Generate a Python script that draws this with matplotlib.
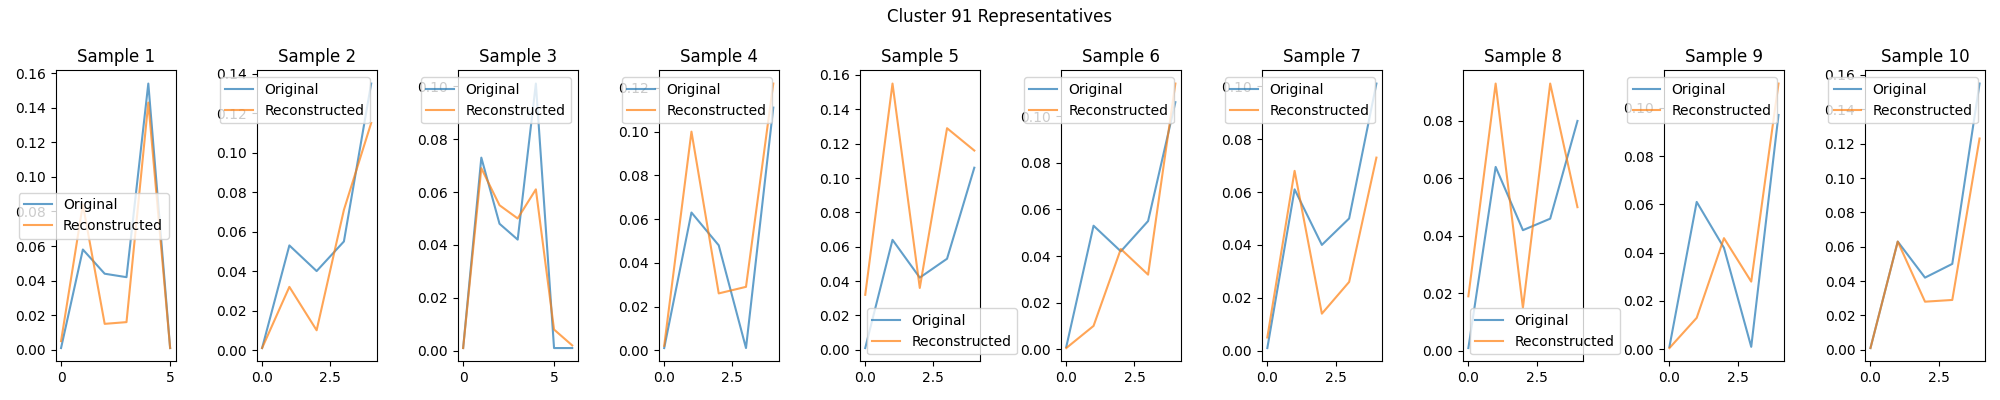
import matplotlib
matplotlib.use("Agg")
import matplotlib.pyplot as plt

cluster_id = 91

original = [
    [0.001, 0.058, 0.044, 0.042, 0.154, 0.001],
    [0.001, 0.053, 0.040, 0.055, 0.135],
    [0.001, 0.073, 0.048, 0.042, 0.101, 0.001, 0.001],
    [0.001, 0.063, 0.048, 0.001, 0.111],
    [0.001, 0.064, 0.042, 0.053, 0.106],
    [0.001, 0.053, 0.042, 0.055, 0.106],
    [0.001, 0.061, 0.040, 0.050, 0.101],
    [0.001, 0.064, 0.042, 0.046, 0.080],
    [0.001, 0.061, 0.042, 0.001, 0.097],
    [0.001, 0.063, 0.042, 0.050, 0.155],
]

reconstructed = [
    [0.005, 0.084, 0.015, 0.016, 0.143, 0.001],
    [0.001, 0.032, 0.010, 0.071, 0.115],
    [0.001, 0.069, 0.055, 0.050, 0.061, 0.008, 0.002],
    [0.002, 0.100, 0.026, 0.029, 0.122],
    [0.032, 0.155, 0.036, 0.129, 0.116],
    [0.0005, 0.010, 0.043, 0.032, 0.114],
    [0.005, 0.068, 0.014, 0.026, 0.073],
    [0.019, 0.093, 0.015, 0.093, 0.050],
    [0.0005, 0.013, 0.046, 0.028, 0.110],
    [0.001, 0.063, 0.028, 0.029, 0.123],
]

fig, axes = plt.subplots(1, len(original), figsize=(20, 4))
for i, ax in enumerate(axes):
    ax.plot(original[i], label="Original", alpha=0.7)
    ax.plot(reconstructed[i], label="Reconstructed", alpha=0.7)
    ax.set_title(f"Sample {i + 1}")
    ax.legend()

fig.suptitle(f"Cluster {cluster_id} Representatives")
fig.tight_layout()
fig.savefig("out.png", dpi=100)
plt.close(fig)
